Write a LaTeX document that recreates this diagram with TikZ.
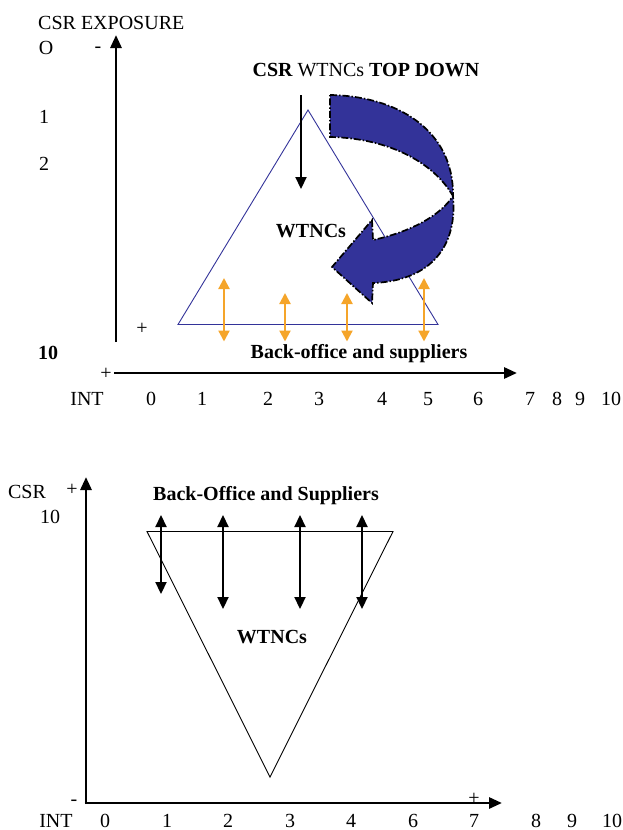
\documentclass[tikz,border=0pt]{standalone}
\usepackage{fontspec}
\setmainfont{Liberation Serif}
\usetikzlibrary{arrows.meta}
\definecolor{navy}{HTML}{333399}
\definecolor{orng}{HTML}{F5A52A}
\begin{document}
\begin{tikzpicture}[x=1pt,y=-1pt,
  font=\fontsize{20}{24}\selectfont,
  lbl/.style={inner sep=0pt, anchor=base},
  lblw/.style={inner sep=0pt, anchor=base west},
  axisline/.style={line width=2.8pt, -{Triangle[length=13pt,width=11pt]}},
  blackarrow/.style={line width=2.2pt, -{Triangle[length=12pt,width=11pt]}},
  blackdbl/.style={line width=2.2pt, {Triangle[length=12pt,width=11pt]}-{Triangle[length=12pt,width=11pt]}},
  orangedbl/.style={orng, line width=2.2pt, {Triangle[length=11pt,width=11pt]}-{Triangle[length=11pt,width=11pt]}},
  bluetri/.style={navy, line width=0.9pt, line join=miter},
  blacktri/.style={black, line width=0.9pt, line join=miter},
  curvearrow/.style={fill=navy, draw=black, line width=1.7pt, dash pattern=on 7pt off 2pt on 1.5pt off 2pt}
]
\useasboundingbox (0,0) rectangle (623,830);

% ---------- top diagram ----------
\node[lblw] (tytitle) at (38,29.6) {CSR EXPOSURE};
\node[lbl] (tO) at (46,54.6) {O};
\node[lbl] (tminus) at (98,52.5) {-};
\node[lbl] (t1) at (44,123.7) {1};
\node[lbl] (t2) at (44,170.7) {2};
\node[lbl] (t10) at (48,359.7) {\bfseries 10};
\node[lbl] (tplusa) at (142,334) {+};
\node[lbl] (tplusb) at (106,379) {+};

\coordinate (tyb) at (116,342);
\coordinate (tyt) at (116,35);
\draw[axisline] (tyb) -- (tyt);
\coordinate (txl) at (114,373);
\coordinate (txr) at (517,373);
\draw[axisline] (txl) -- (txr);

\node[lbl] (tINT) at (87,405.7) {INT};
\foreach \n/\x in {0/151,1/202,2/268,3/319,4/382,5/428,6/478,7/530,8/557,9/580,10/611}
  \node[lbl] (tx\n) at (\x,405.7) {\n};

% blue triangle
\coordinate (ta) at (308,110);
\coordinate (tl) at (178,324.5);
\coordinate (tr) at (438,324.5);
\draw[bluetri] (ta) -- (tr) -- (tl) -- cycle;

% curved arrow
\draw[curvearrow]
  (330,95) .. controls (397,96) and (454,130) .. (453,196)
  .. controls (458,252) and (425,281) .. (373,283)
  -- (372,303) -- (332,267) -- (372,220) -- (373,240)
  .. controls (410,232) and (440,216) .. (453,196)
  .. controls (432,160) and (385,138) .. (330,137) -- cycle;

% title
\node[lbl] (ttitle) at (366,76.6) {\bfseries CSR \mdseries WTNCs \bfseries TOP DOWN};
\coordinate (tda) at (301,95);
\coordinate (tdb) at (301,189);
\draw[blackarrow] (tda) -- (tdb);

\node[lbl] (twtnc) at (311,237.6) {\bfseries WTNCs};

\foreach \i/\x/\t in {1/224/278,2/285/293,3/347/293,4/424/278}{
  \coordinate (oa\i) at (\x,\t);
  \coordinate (ob\i) at (\x,341.5);
  \draw[orangedbl] (ob\i) -- (oa\i);
}
\node[lbl] (tback) at (359,358.6) {\bfseries Back-office and suppliers};

% ---------- bottom diagram ----------
\node[lbl] (bcsr) at (27,498.6) {CSR};
\node[lbl] (bplus) at (72,495) {+};
\node[lbl] (b10) at (50,523.7) {10};
\node[lbl] (bminus) at (74,805.5) {-};
\node[lbl] (bplusx) at (474,804) {+};

\coordinate (byb) at (86,804);
\coordinate (byt) at (86,477);
\draw[axisline] (byb) -- (byt);
\coordinate (bxl) at (84.6,803);
\coordinate (bxr) at (502,803);
\draw[axisline] (bxl) -- (bxr);

\node[lbl] (bINT) at (56,827) {INT};
\foreach \n/\x in {0/105,1/167,2/228,3/290,4/351,6/413,7/474,8/536,9/572,10/612}
  \node[lbl] (bx\n) at (\x,827) {\n};

\coordinate (bl) at (147,531.5);
\coordinate (br) at (393,531.5);
\coordinate (ba) at (270,777);
\draw[blacktri] (bl) -- (br) -- (ba) -- cycle;

\node[lbl] (bback) at (266,500.6) {\bfseries Back-Office and Suppliers};
\node[lbl] (bwtnc) at (272,643.6) {\bfseries WTNCs};

\foreach \i/\x/\b in {1/161/594,2/223/609,3/300/609,4/362/609}{
  \coordinate (ka\i) at (\x,515);
  \coordinate (kb\i) at (\x,\b);
  \draw[blackdbl] (ka\i) -- (kb\i);
}
\end{tikzpicture}
\end{document}
